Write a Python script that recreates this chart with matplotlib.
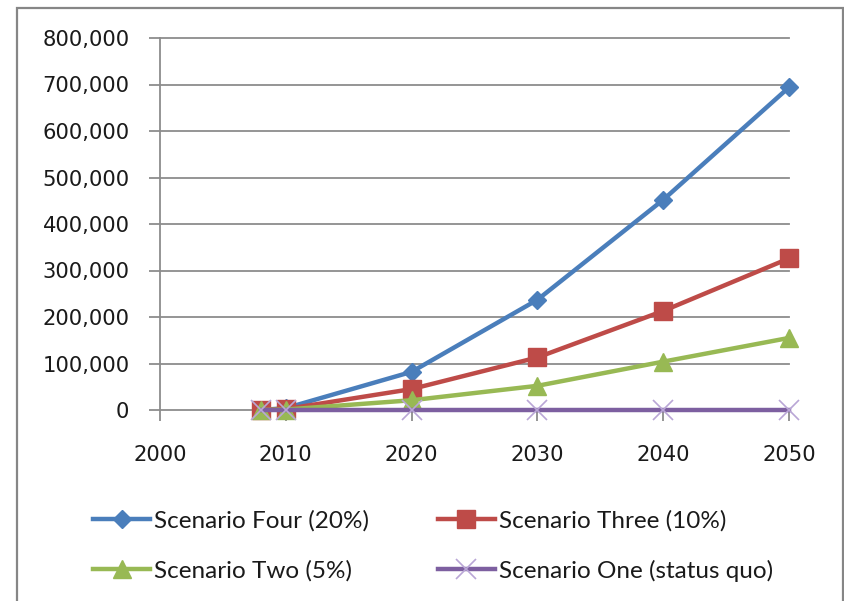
import matplotlib
matplotlib.use("Agg")
import matplotlib.pyplot as plt
from matplotlib.patches import Rectangle
from matplotlib.ticker import FuncFormatter

years = [2008, 2010, 2020, 2030, 2040, 2050]
scenario_four = [0, 4000, 82000, 237000, 452000, 694000]
scenario_three = [0, 2000, 45000, 113000, 213000, 326000]
scenario_two = [0, 1000, 21000, 52000, 104000, 155000]
scenario_one = [0, 0, 0, 0, 0, 0]
labels = ["Scenario Four (20%)", "Scenario Three (10%)",
          "Scenario Two (5%)", "Scenario One (status quo)"]
x_ticks = [2000, 2010, 2020, 2030, 2040, 2050]
y_ticks = [0, 100000, 200000, 300000, 400000, 500000, 600000, 700000, 800000]

W, H = 845, 601
fig = plt.figure(figsize=(W / 100, H / 100), dpi=100)
fig.patch.set_facecolor("white")

# outer chart border
fig.patches.append(Rectangle((17 / W, -0.01), (843 - 17) / W, 1 - 8 / H + 0.01,
                             transform=fig.transFigure, fill=False,
                             edgecolor="#868686", linewidth=1.6))

ax = fig.add_axes([160 / W, 1 - 410 / H, (789 - 160) / W, (410 - 38) / H])
ax.set_xlim(2000, 2050)
ax.set_ylim(0, 800000)

grid_c = "#8c8c8c"
for yv in y_ticks:
    ax.axhline(yv, color=grid_c, linewidth=1.3, zorder=1, clip_on=False)

for s in ["top", "right", "bottom"]:
    ax.spines[s].set_visible(False)
ax.spines["left"].set_color(grid_c)
ax.spines["left"].set_linewidth(1.3)

ax.set_yticks(y_ticks)
ax.yaxis.set_major_formatter(FuncFormatter(lambda v, p: f"{int(v):,}"))
ax.set_xticks(x_ticks)
ax.tick_params(axis="y", direction="out", length=8, width=1.3, color=grid_c,
               pad=14, labelsize=15.2, labelcolor="#1a1a1a")
ax.tick_params(axis="x", direction="out", length=8, width=1.3, color=grid_c,
               pad=17, labelsize=15.2, labelcolor="#1a1a1a")

blue, red, green, purple = "#4a7ebb", "#be4b48", "#98b954", "#7d5fa0"

l4, = ax.plot(years, scenario_four, color=blue, lw=3.2, marker="D", ms=9.5,
              mec=blue, mfc=blue, label=labels[0], clip_on=False, zorder=3)
l3, = ax.plot(years, scenario_three, color=red, lw=3.2, marker="s", ms=13.5,
              mec=red, mfc=red, label=labels[1], clip_on=False, zorder=4)
l2, = ax.plot(years, scenario_two, color=green, lw=3.2, marker="^", ms=13,
              mec=green, mfc=green, label=labels[2], clip_on=False, zorder=5)
l1, = ax.plot(years, scenario_one, color=purple, lw=3.2, marker="x", ms=14,
              mec="#b9a6d6", mew=1.2, label=labels[3], clip_on=False, zorder=6)

# legend fills column-wise: order so rows read Four/Three, Two/One
handles = [l4, l2, l3, l1]
leg = fig.legend(handles, [h.get_label() for h in handles],
                 loc="center left", bbox_to_anchor=(93 / W, 1 - 546 / H),
                 ncol=2, frameon=False, borderpad=0, borderaxespad=0,
                 handlelength=2.35, handletextpad=0.17, columnspacing=2.82,
                 labelspacing=1.15,
                 prop={"family": ["Lato", "DejaVu Sans"], "size": 17.5})
for t in leg.get_texts():
    t.set_color("#1a1a1a")

fig.savefig("out.png", dpi=100, facecolor="white")
